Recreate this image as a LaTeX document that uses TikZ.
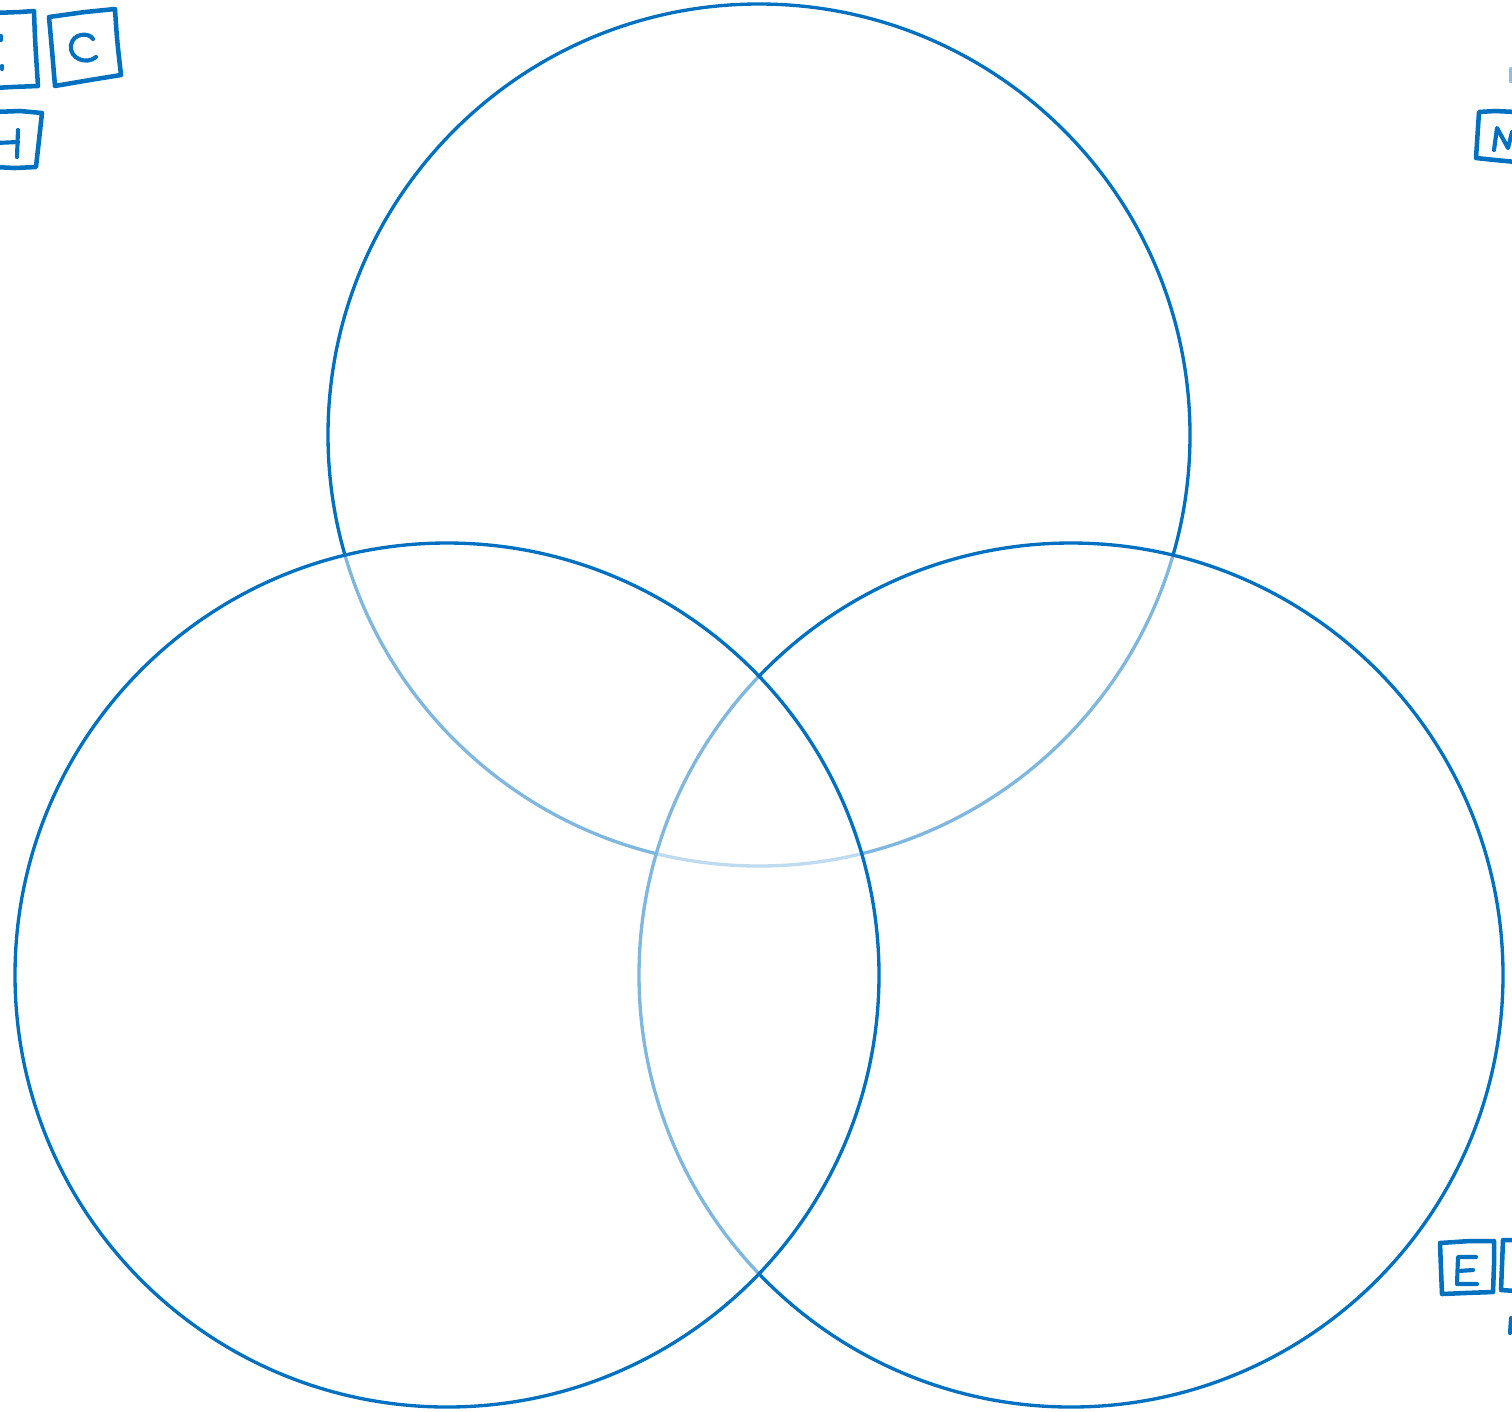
\documentclass[tikz,border=0pt]{standalone}
\definecolor{vblue}{HTML}{0070C0}
\begin{document}
\begin{tikzpicture}[x=0.75pt,y=-0.75pt,
  ring/.style={draw=vblue,line width=2.5pt},
  veil/.style={fill=white,fill opacity=0.5},
  hand/.style={draw=vblue,line width=3.4pt,line cap=round,line join=round},
  glyph/.style={draw=vblue,line width=3.1pt,line cap=round,line join=round}]
\useasboundingbox (0,0) rectangle (1512,1411);
% top circle
\node[circle,ring,minimum size=862*0.75pt,inner sep=0pt] (top) at (759,435) {};
% right circle (veils what lies below)
\fill[veil] (1071,975) circle (432);
\node[circle,ring,minimum size=864*0.75pt,inner sep=0pt] (right) at (1071,975) {};
% left circle
\fill[veil] (447,975) circle (432);
\node[circle,ring,minimum size=864*0.75pt,inner sep=0pt] (left) at (447,975) {};
% --- hand-drawn letter tiles, top left ---
\draw[hand] (-6,13) -- (20,12) -- (34,11) .. controls (35,40) .. (38,86) -- (12,87) -- (-6,88);
\draw[glyph] (1,36) -- (1,40);
\draw[glyph] (2,66) -- (2,69);
\draw[hand] (49,17) -- (85,12) -- (115,9) .. controls (117,40) .. (121,75) -- (90,80) -- (55,86) .. controls (52,50) .. (49,17);
\draw[glyph] (93,39) .. controls (89,32) and (73,33) .. (71,45) .. controls (69,59) and (87,65) .. (96,57);
\draw[hand] (-6,112) -- (20,111) -- (42,113) .. controls (39,140) .. (36,167) -- (15,168) -- (-6,167);
\draw[glyph] (18,130) -- (17,157);
\draw[glyph] (-4,143) -- (18,142);
% --- top right ---
\draw[glyph,draw=vblue!45] (1511,69) -- (1511,81);
\draw[hand] (1516,112) -- (1495,111) -- (1479,112) .. controls (1478,135) .. (1476,158) -- (1495,160) -- (1516,162);
\draw[glyph] (1494,150) -- (1497,128) -- (1508,148) -- (1512,132);
% --- bottom right ---
\draw[hand] (1440,1243) -- (1470,1241) -- (1494,1241) -- (1494,1265) -- (1493,1292) -- (1465,1293) -- (1442,1294) .. controls (1441,1270) .. (1440,1243);
\draw[glyph] (1476,1257) -- (1458,1257) -- (1457,1284) -- (1477,1284);
\draw[glyph] (1458,1271) -- (1473,1270);
\draw[hand] (1516,1240) -- (1503,1240) .. controls (1502,1265) .. (1501,1290) -- (1516,1291);
\draw[glyph] (1511,1318) -- (1510,1333);
\end{tikzpicture}
\end{document}
